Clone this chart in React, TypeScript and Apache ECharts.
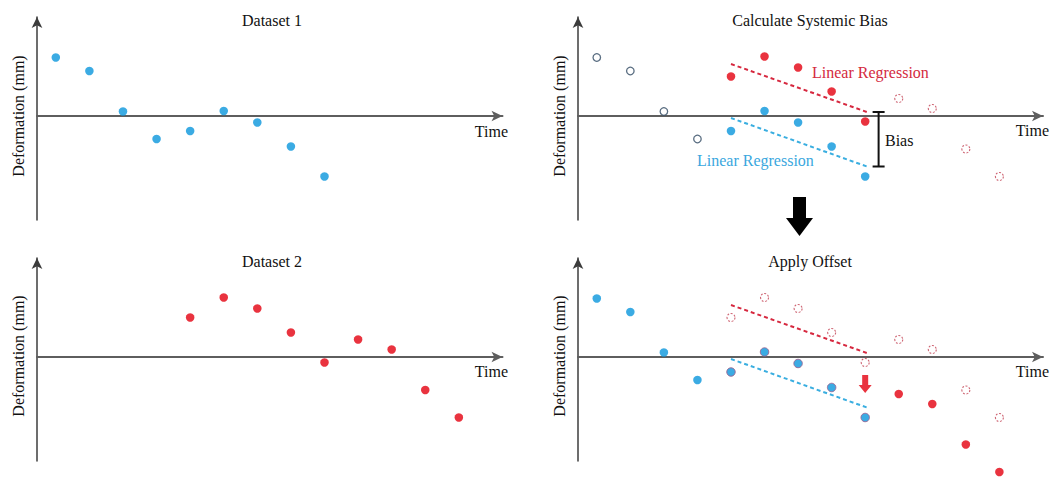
import React, { useEffect, useRef } from 'react';
import * as echarts from 'echarts';

// ---- data ----
const TIME_1 = [0, 1, 2, 3, 4, 5, 6, 7, 8];
const DATASET_1 = [5.85, 4.5, 0.45, -2.3, -1.5, 0.5, -0.65, -3.05, -6.05];
const TIME_2 = [4, 5, 6, 7, 8, 9, 10, 11, 12];
const DATASET_2 = [3.95, 5.95, 4.85, 2.45, -0.55, 1.75, 0.75, -3.3, -6.05];
const REG_TIME = [4, 8.05];
const REG_RED = [5.2, 0.4];
const REG_BLUE = [-0.2, -5.05];
const BIAS = 5.45;
const BIAS_X = 8.4;
const OFFSET_ARROW = [8, -2.7];

const TITLES = ['Dataset 1', 'Calculate Systemic Bias', 'Dataset 2', 'Apply Offset'];
const Y_NAME = 'Deformation (mm)';
const X_NAME = 'Time';

const BLUE = '#0a96dc';
const RED = '#e3000f';
const RED_LINE = '#d6283f';
const BLUE_LINE = '#3aaee0';
const FONT = "'Liberation Serif', 'Times New Roman', serif";

const pts = (xs: number[], ys: number[]) => xs.map((x, i) => [x, ys[i]]);

export default function App() {
  const ref = useRef<HTMLDivElement>(null);
  useEffect(() => {
    document.body.style.margin = '0';
    const chart = echarts.init(ref.current!, null, { renderer: 'svg' });

    const grids = [
      { left: 37, top: 17, width: 465.5, height: 203 },
      { left: 578, top: 17, width: 465, height: 203 },
      { left: 37, top: 258, width: 465.5, height: 203 },
      { left: 578, top: 258, width: 465, height: 203 },
    ];

    const xAxes = grids.map((_, g) => ({
      gridIndex: g,
      type: 'value',
      min: -0.56,
      max: 13.3,
      axisLine: {
        show: true,
        onZero: true,
        symbol: ['none', 'arrow'],
        symbolSize: [8, 11],
        lineStyle: { color: '#5e5e5e', width: 2 },
      },
      axisTick: { show: false },
      axisLabel: { show: false },
      splitLine: { show: false },
    }));
    const yAxes = grids.map((_, g) => ({
      gridIndex: g,
      type: 'value',
      min: -10.4,
      max: 9.9,
      axisLine: {
        show: true,
        onZero: false,
        symbol: ['none', 'arrow'],
        symbolSize: [8, 11],
        lineStyle: { color: '#3c3c3c', width: 1.5 },
      },
      axisTick: { show: false },
      axisLabel: { show: false },
      splitLine: { show: false },
    }));

    const filled = (g: number, data: number[][], color: string, extra: any = {}) => ({
      type: 'scatter',
      xAxisIndex: g,
      yAxisIndex: g,
      data,
      symbolSize: 8.5,
      clip: false,
      silent: true,
      itemStyle: { color, ...extra },
    });
    const hollow = (g: number, data: number[][]) => ({
      type: 'scatter',
      xAxisIndex: g,
      yAxisIndex: g,
      data,
      symbolSize: 7.5,
      clip: false,
      silent: true,
      itemStyle: { color: '#fff', borderColor: '#2f4862', borderWidth: 1.3 },
    });
    const dotted = (g: number, data: number[][]) => ({
      type: 'scatter',
      xAxisIndex: g,
      yAxisIndex: g,
      data,
      symbolSize: 8,
      clip: false,
      silent: true,
      itemStyle: { color: 'rgba(255,255,255,0)', borderColor: '#c23f50', borderWidth: 1.1, borderType: [2, 1.6] },
    });
    const regLine = (g: number, ys: number[], color: string) => ({
      type: 'line',
      xAxisIndex: g,
      yAxisIndex: g,
      data: pts(REG_TIME, ys),
      symbol: 'none',
      clip: false,
      silent: true,
      lineStyle: { color, width: 2, type: [4, 3] },
    });

    const d1 = pts(TIME_1, DATASET_1);
    const d2 = pts(TIME_2, DATASET_2);
    const shifted = pts(TIME_2.slice(5), DATASET_2.slice(5).map((v) => v - BIAS));

    const series: any[] = [
      // panel 1
      filled(0, d1, BLUE),
      // panel 2
      regLine(1, REG_RED, RED_LINE),
      regLine(1, REG_BLUE, BLUE_LINE),
      hollow(1, d1.slice(0, 4)),
      filled(1, d1.slice(4), BLUE),
      filled(1, d2.slice(0, 5), RED),
      dotted(1, d2.slice(5)),
      {
        type: 'line',
        xAxisIndex: 1,
        yAxisIndex: 1,
        data: [
          [BIAS_X, REG_RED[1]],
          [BIAS_X, REG_BLUE[1]],
        ],
        symbol: 'rect',
        symbolSize: [12, 2],
        clip: false,
        silent: true,
        itemStyle: { color: '#111' },
        lineStyle: { color: '#111', width: 2 },
      },
      // panel 3
      filled(2, d2, RED),
      // panel 4
      regLine(3, REG_RED, RED_LINE),
      regLine(3, REG_BLUE, BLUE_LINE),
      dotted(3, d2),
      filled(3, d1.slice(0, 4), BLUE),
      filled(3, d1.slice(4), BLUE, { borderColor: '#9c5a88', borderWidth: 1 }),
      filled(3, shifted, RED),
      {
        type: 'scatter',
        xAxisIndex: 3,
        yAxisIndex: 3,
        data: [OFFSET_ARROW],
        symbol: 'path://M3.5,0H9.5V10H13L6.5,18L0,10H3.5Z',
        symbolSize: [13, 18],
        clip: false,
        silent: true,
        itemStyle: { color: RED },
      },
    ];

    const txt = (text: string, x: number, y: number, align: string, fill = '#111', rotation = 0) => ({
      type: 'text',
      x,
      y,
      rotation,
      silent: true,
      style: {
        text,
        fill,
        fontSize: 16,
        fontFamily: FONT,
        textAlign: align,
        textVerticalAlign: 'middle',
      },
    });

    const graphic: any[] = [
      txt(TITLES[0], 272, 20, 'center'),
      txt(TITLES[1], 810, 20, 'center'),
      txt(TITLES[2], 272, 261, 'center'),
      txt(TITLES[3], 810, 261, 'center'),
      txt(Y_NAME, 18, 116, 'center', '#111', Math.PI / 2),
      txt(Y_NAME, 559, 116, 'center', '#111', Math.PI / 2),
      txt(Y_NAME, 18, 356, 'center', '#111', Math.PI / 2),
      txt(Y_NAME, 559, 356, 'center', '#111', Math.PI / 2),
      txt(X_NAME, 508, 131, 'right'),
      txt(X_NAME, 1049, 130, 'right'),
      txt(X_NAME, 508, 371, 'right'),
      txt(X_NAME, 1049, 371, 'right'),
      txt('Linear Regression', 812, 72, 'left', '#d42a40'),
      txt('Linear Regression', 697, 160, 'left', '#3aa7de'),
      txt('Bias', 885, 140, 'left'),
      {
        type: 'polygon',
        silent: true,
        shape: {
          points: [
            [793, 197],
            [806, 197],
            [806, 218],
            [813, 218],
            [799.5, 236],
            [786, 218],
            [793, 218],
          ],
        },
        style: { fill: '#000' },
      },
    ];

    chart.setOption({
      animation: false,
      backgroundColor: '#fff',
      grid: grids,
      xAxis: xAxes,
      yAxis: yAxes,
      series,
      graphic,
    });
    return () => chart.dispose();
  }, []);
  return <div ref={ref} style={{ width: 1050, height: 477 }} />;
}
